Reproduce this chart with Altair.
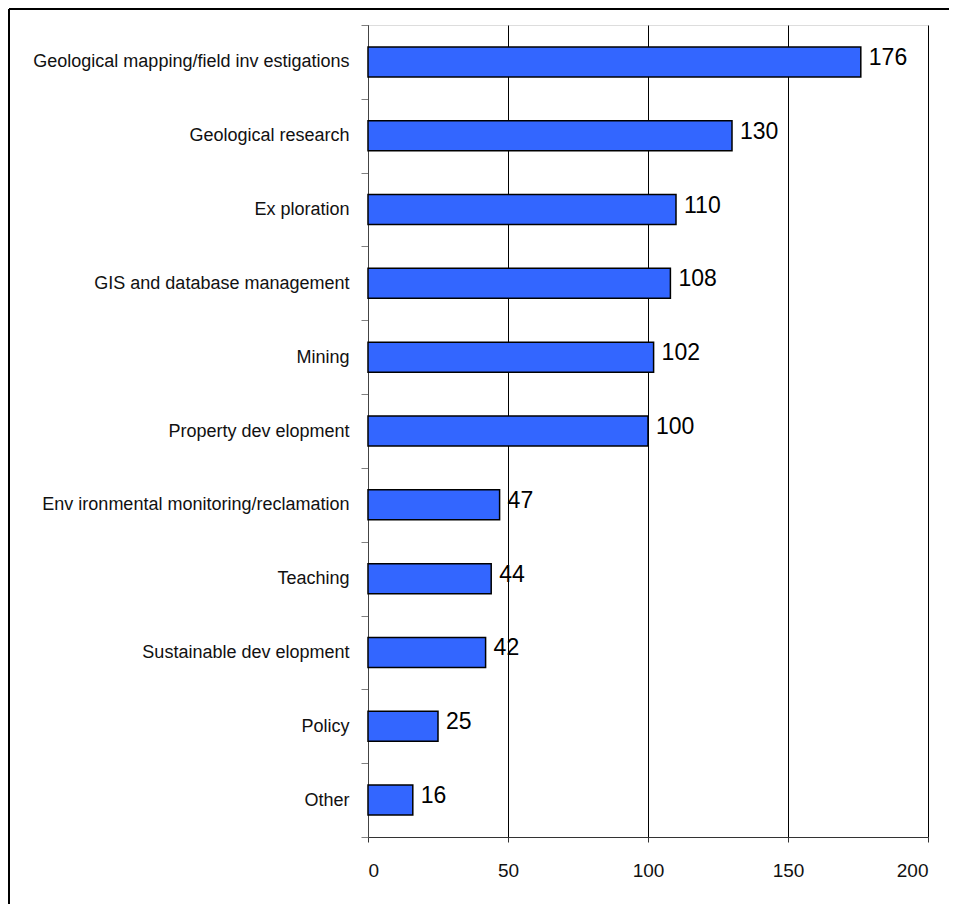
import altair as alt
import pandas as pd

categories = [
    "Geological mapping/field inv estigations",
    "Geological research",
    "Ex ploration",
    "GIS and database management",
    "Mining",
    "Property  dev elopment",
    "Env ironmental monitoring/reclamation",
    "Teaching",
    "Sustainable dev elopment",
    "Policy",
    "Other",
]
values = [176, 130, 110, 108, 102, 100, 47, 44, 42, 25, 16]
x_ticks = [0, 50, 100, 150, 200]

df = pd.DataFrame({"category": categories, "value": values})

LAB = "Liberation Sans, Arial, sans-serif"
REG = "Liberation Sans, Arial, sans-serif"

y_enc = alt.Y(
    "category:N",
    sort=categories,
    title=None,
    scale=alt.Scale(paddingInner=0, paddingOuter=0),
    axis=alt.Axis(
        tickBand="extent",
        tickSize=7,
        tickColor="#808080",
        domainColor="#444444",
        labelFont=LAB,
        labelFontSize=18,
        labelColor="#111111",
        labelPadding=12,
        labelLimit=400,
        grid=False,
    ),
)

x_enc = alt.X(
    "value:Q",
    title=None,
    scale=alt.Scale(domain=[0, 200], nice=False),
    axis=alt.Axis(
        values=x_ticks,
        tickSize=5,
        tickColor="#333333",
        domainColor="#333333",
        labelFont=LAB,
        labelFontSize=19,
        labelColor="#111111",
        labelPadding=19,
        grid=True,
        gridColor="#000000",
        gridWidth=1,
    ),
)

base = alt.Chart(df)

bars = base.mark_bar(
    color="#3366FF", stroke="#000000", strokeWidth=1.5, size=30
).encode(x=x_enc, y=y_enc)

text = base.mark_text(
    align="left", baseline="middle", dx=8, dy=-4, font=REG, fontSize=23, color="#000000"
).encode(x=alt.X("value:Q"), y=alt.Y("category:N", sort=categories), text="value:Q")

frame_left = alt.Chart(df).mark_rule(color="#000000", strokeWidth=2).encode(
    x=alt.value(-359), y=alt.value(-16), y2=alt.value(900)
)
frame_top = alt.Chart(df).mark_rule(color="#000000", strokeWidth=2).encode(
    x=alt.value(-359), x2=alt.value(700), y=alt.value(-16)
)

chart = (
    alt.layer(bars, text, frame_left, frame_top)
    .properties(
        width=560,
        height=812,
        autosize=alt.AutoSizeParams(type="none"),
        padding={"left": 360, "top": 17, "right": 21, "bottom": 67},
    )
    .configure_view(fill="#E8E8E8", stroke="#808080", strokeWidth=1.5)
    .configure(background="#FFFFFF")
)

chart.save("out.html", embed_options={"renderer": "svg", "actions": False})
